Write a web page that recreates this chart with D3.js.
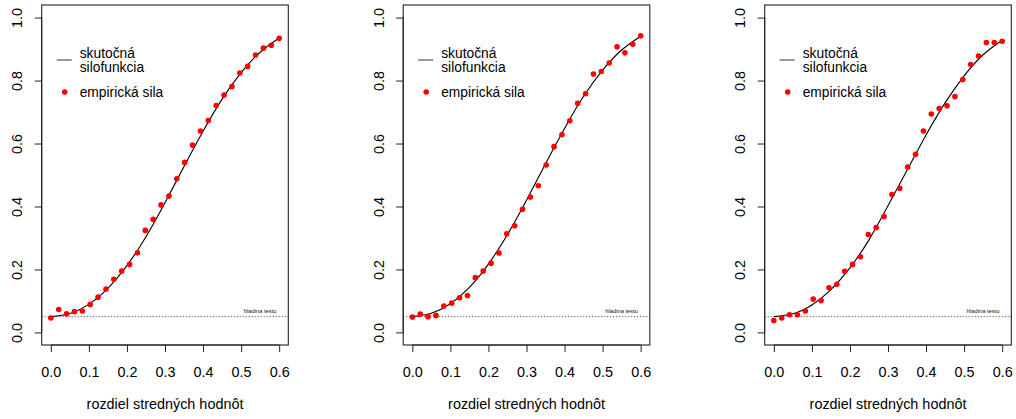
<!DOCTYPE html>
<html>
<head>
<meta charset="utf-8">
<script src="https://cdn.jsdelivr.net/npm/d3@7"></script>
<style>
  html, body { margin: 0; padding: 0; background: #fff; }
  svg { display: block; font-family: "Liberation Sans", Arial, sans-serif; }
</style>
</head>
<body>
<svg id="chart" width="1016" height="419"></svg>
<script>
// ---- data ----
const xPoints = d3.range(30).map(i => i * 0.6 / 29); // 30 equally spaced differences 0..0.6
const empirical1 = [0.046,0.073,0.059,0.066,0.068,0.089,0.112,0.138,0.169,0.195,0.216,0.253,0.324,0.359,0.405,0.433,0.488,0.540,0.595,0.640,0.673,0.721,0.754,0.781,0.824,0.845,0.881,0.903,0.912,0.934];
const empirical2 = [0.049,0.058,0.050,0.054,0.084,0.093,0.110,0.117,0.174,0.195,0.220,0.252,0.313,0.339,0.391,0.430,0.466,0.532,0.590,0.628,0.672,0.728,0.758,0.821,0.829,0.856,0.907,0.888,0.915,0.942];
const empirical3 = [0.038,0.046,0.056,0.056,0.068,0.106,0.101,0.142,0.153,0.194,0.216,0.240,0.311,0.333,0.368,0.438,0.458,0.525,0.566,0.640,0.694,0.711,0.720,0.749,0.803,0.851,0.878,0.921,0.921,0.925];
const curveX = [0,0.05,0.1,0.15,0.2,0.25,0.3,0.35,0.4,0.45,0.5,0.55,0.6];
const truePower1 = [0.05,0.060,0.089,0.140,0.212,0.304,0.412,0.527,0.639,0.741,0.825,0.890,0.935];
const truePower2 = [0.05,0.061,0.091,0.143,0.217,0.311,0.420,0.536,0.648,0.750,0.833,0.897,0.941];
const truePower3 = [0.05,0.059,0.087,0.136,0.205,0.294,0.402,0.515,0.627,0.729,0.815,0.882,0.928];
const xTicks = [0,0.1,0.2,0.3,0.4,0.5,0.6];
const yTicks = [0,0.2,0.4,0.6,0.8,1.0];
const alphaLevel = 0.05;
const xTitle = "rozdiel stredných hodnôt";
const legendLine = ["skutočná", "silofunkcia"];
const legendPoints = "empirická sila";
const levelLabel = "hladina testu";

const panels = [
  {emp: empirical1, curve: truePower1},
  {emp: empirical2, curve: truePower2},
  {emp: empirical3, curve: truePower3}
];

const svg = d3.select("#chart");
const boxW = 246.6, boxTop = 5, boxBottom = 345;
const fs = 14.4;

panels.forEach((p, i) => {
  const L = 41.7 + i * 361.5;
  const R = L + boxW;
  const x = d3.scaleLinear().domain([-0.024, 0.624]).range([L, R]);
  const y = d3.scaleLinear().domain([-0.04, 1.04]).range([boxBottom, boxTop]);
  const g = svg.append("g");

  // box
  g.append("rect").attr("x", L).attr("y", boxTop).attr("width", boxW).attr("height", boxBottom - boxTop)
    .attr("fill", "none").attr("stroke", "#222").attr("stroke-width", 1.1);

  // x axis
  const xa = g.append("g").attr("transform", `translate(0,${boxBottom})`)
    .call(d3.axisBottom(x).tickValues(xTicks).tickFormat(d3.format(".1f")).tickSize(7).tickSizeOuter(0));
  xa.select(".domain").attr("d", `M${x(0)},0H${x(0.6)}`).attr("stroke", "#222");
  xa.selectAll(".tick line").attr("stroke", "#222");
  xa.selectAll(".tick text").attr("font-size", fs).attr("fill", "#000").attr("dy", null).attr("y", 32);

  // y axis
  const ya = g.append("g").attr("transform", `translate(${L},0)`)
    .call(d3.axisLeft(y).tickValues(yTicks).tickFormat(d3.format(".1f")).tickSize(7).tickSizeOuter(0));
  ya.select(".domain").attr("d", `M0,${y(0)}V${y(1)}`).attr("stroke", "#222");
  ya.selectAll(".tick line").attr("stroke", "#222");
  ya.selectAll(".tick text").attr("font-size", fs).attr("fill", "#000")
    .attr("x", null).attr("dy", null).attr("text-anchor", "middle")
    .attr("transform", "translate(-19.7,0) rotate(-90)");

  // x title
  g.append("text").attr("x", (x(0) + x(0.6)) / 2).attr("y", 409).attr("text-anchor", "middle")
    .attr("font-size", fs).attr("fill", "#000").text(xTitle);

  // level line
  g.append("line").attr("x1", L).attr("x2", R).attr("y1", y(alphaLevel)).attr("y2", y(alphaLevel))
    .attr("stroke", "#333").attr("stroke-width", 1).attr("stroke-dasharray", "1,2");
  g.append("text").attr("x", x(0.55)).attr("y", y(0.069) + 2).attr("text-anchor", "middle")
    .attr("font-size", 5.8).attr("fill", "#111").text(levelLabel);

  // true power curve
  const line = d3.line().x(d => x(d[0])).y(d => y(d[1])).curve(d3.curveNatural);
  g.append("path").datum(curveX.map((v, k) => [v, p.curve[k]]))
    .attr("d", line).attr("fill", "none").attr("stroke", "#000").attr("stroke-width", 1.1);

  // empirical points
  g.selectAll("circle.pt").data(xPoints.map((v, k) => [v, p.emp[k]])).enter()
    .append("circle").attr("class", "pt").attr("cx", d => x(d[0])).attr("cy", d => y(d[1]))
    .attr("r", 2.8).attr("fill", "#ff0000");

  // legend
  g.append("line").attr("x1", L + 15).attr("x2", L + 30).attr("y1", 60).attr("y2", 60)
    .attr("stroke", "#333").attr("stroke-width", 1);
  g.append("text").attr("x", L + 38).attr("y", 58).attr("font-size", 13.8).attr("fill", "#000").text(legendLine[0]);
  g.append("text").attr("x", L + 38).attr("y", 72).attr("font-size", 13.8).attr("fill", "#000").text(legendLine[1]);
  g.append("circle").attr("cx", L + 23).attr("cy", 92).attr("r", 2.8).attr("fill", "#ff0000");
  g.append("text").attr("x", L + 38).attr("y", 97).attr("font-size", 13.8).attr("fill", "#000").text(legendPoints);
});
</script>
</body>
</html>
